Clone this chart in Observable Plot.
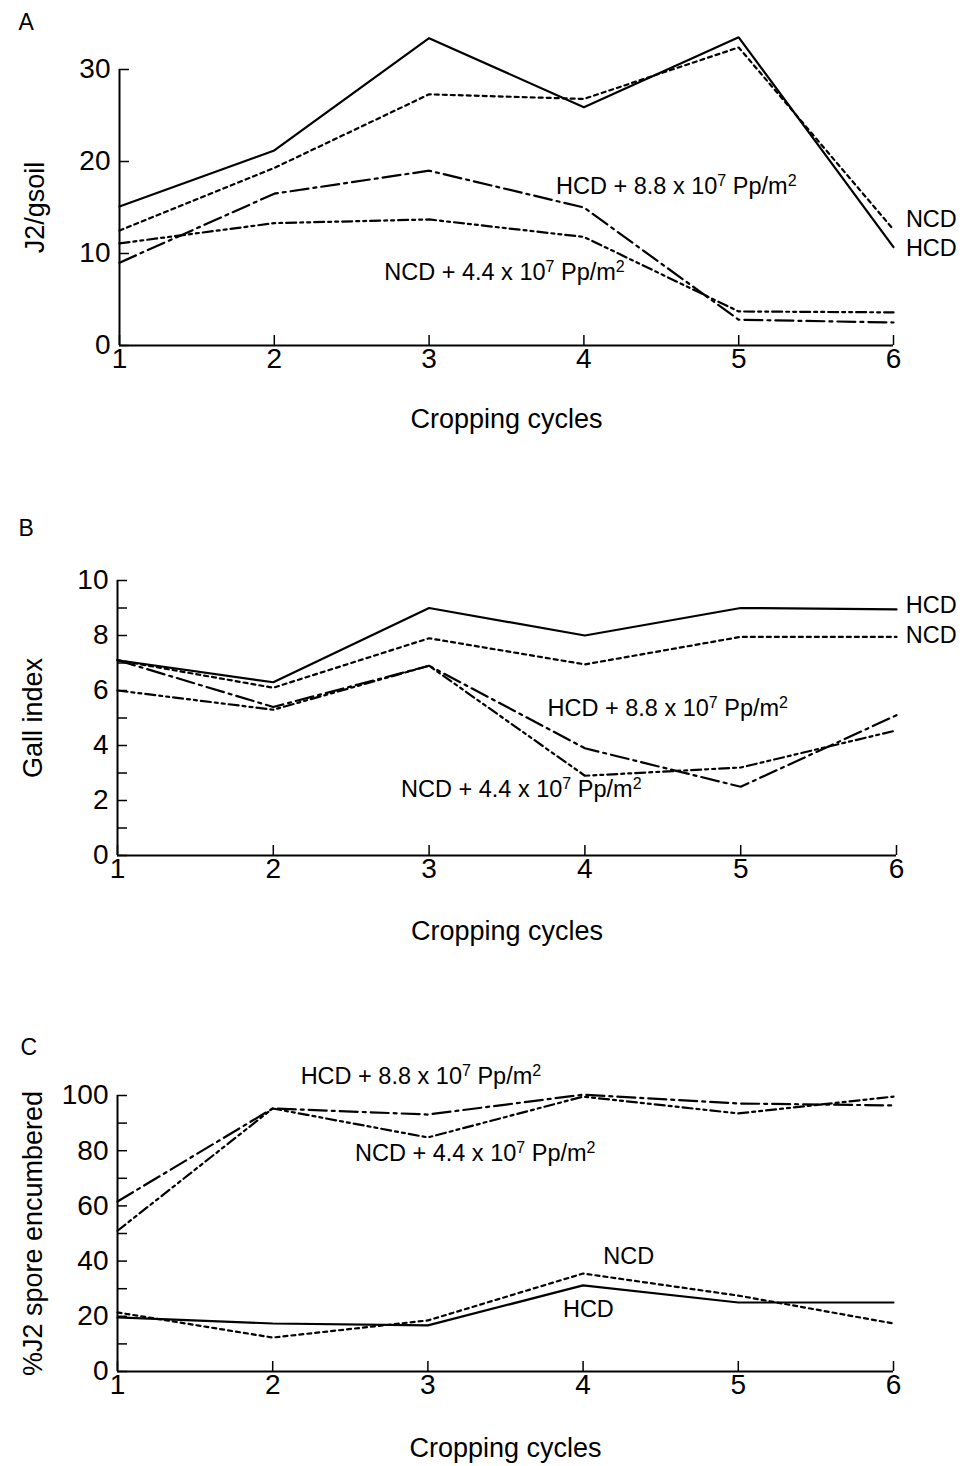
<!DOCTYPE html>
<html><head><meta charset="utf-8">
<script src="https://cdn.jsdelivr.net/npm/d3@7"></script>
<script src="https://cdn.jsdelivr.net/npm/@observablehq/plot@0.6"></script>
<style>
body{margin:0;background:#fff;}
#chart svg{display:block;}
</style>
</head><body><div id="chart"></div>
<script>
// ---- data ----
const cycles = [1, 2, 3, 4, 5, 6];
const seriesNames = ["HCD", "NCD", "HCD + 8.8 x 10⁷ Pp/m²", "NCD + 4.4 x 10⁷ Pp/m²"];

// Panel A: J2/gsoil
const aHCD    = [15.1, 21.2, 33.4, 25.9, 33.5, 10.7];
const aNCD    = [12.5, 19.3, 27.3, 26.8, 32.4, 12.6];
const aHCDPp  = [9.0, 16.5, 19.0, 15.0, 2.8, 2.5];
const aNCDPp  = [11.1, 13.3, 13.7, 11.8, 3.7, 3.6];
const aTicks = [0, 10, 20, 30];

// Panel B: Gall index
const bHCD    = [7.1, 6.3, 9.0, 8.0, 9.0, 8.95];
const bNCD    = [7.1, 6.1, 7.9, 6.95, 7.95, 7.95];
const bHCDPp  = [7.1, 5.4, 6.9, 3.9, 2.5, 5.1];
const bNCDPp  = [6.0, 5.3, 6.9, 2.9, 3.2, 4.55];
const bTicks = [0, 2, 4, 6, 8, 10];
const bMinor = [0, 1, 2, 3, 4, 5, 6, 7, 8, 9, 10];

// Panel C: %J2 spore encumbered
const cHCD    = [19.6, 17.4, 16.7, 31.2, 25.0, 25.0];
const cNCD    = [21.4, 12.3, 18.5, 35.5, 27.5, 17.4];
const cHCDPp  = [61.6, 95.3, 93.1, 100.3, 97.1, 96.4];
const cNCDPp  = [51.0, 95.3, 84.8, 99.6, 93.5, 99.6];
const cTicks = [0, 20, 40, 60, 80, 100];
const cMinor = [0, 10, 20, 30, 40, 50, 60, 70, 80, 90, 100];

// in-plot labels (text, cycle, value)
const aLabels = [
  {text: seriesNames[2], x: 3.82, y: 17.3},
  {text: seriesNames[3], x: 2.71, y: 7.9},
  {text: "NCD", x: 6.08, y: 13.7},
  {text: "HCD", x: 6.08, y: 10.5}
];
const bLabels = [
  {text: seriesNames[2], x: 3.76, y: 5.35},
  {text: seriesNames[3], x: 2.82, y: 2.4},
  {text: "HCD", x: 6.06, y: 9.1},
  {text: "NCD", x: 6.06, y: 8.0}
];
const cLabels = [
  {text: seriesNames[2], x: 2.18, y: 106.9},
  {text: seriesNames[3], x: 2.53, y: 79.0},
  {text: "NCD", x: 4.13, y: 41.7},
  {text: "HCD", x: 3.87, y: 22.5}
];

// ---- build ----
const dashStyles = [null, "4,4", "18,5,3,5", "10,4,3,4,3,4"];
const FONT = "'Liberation Sans', Arial, Helvetica, sans-serif";

function rowsOf(arrs) {
  const rows = [];
  arrs.forEach((arr, si) => arr.forEach((v, i) => rows.push({series: seriesNames[si], cycle: cycles[i], value: v})));
  return rows;
}

function panel(o) {
  const rows = rowsOf(o.series);
  const lines = seriesNames.map((s, i) => Plot.line(rows.filter(d => d.series === s), {
    x: "cycle", y: "value", stroke: "#000", strokeWidth: 2.2,
    strokeDasharray: dashStyles[i] || undefined, strokeLinejoin: "miter"
  }));
  return Plot.plot({
    width: 962, height: o.height,
    marginTop: o.mt, marginBottom: o.mb, marginLeft: o.ml, marginRight: o.mr,
    style: {fontFamily: FONT, fontSize: "28px", color: "#000", background: "#fff", overflow: "visible"},
    x: {domain: [1, 6]},
    y: {domain: o.yDomain},
    marks: [
      Plot.axisX(cycles, {tickSize: -10, fill: "none", strokeWidth: 1.5}),
      Plot.axisX(cycles, {tickSize: 0, tickPadding: 3, fontSize: 28, label: null, tickFormat: d => d}),
      Plot.axisY(o.minor, {tickSize: -10, fill: "none", strokeWidth: 1.5}),
      Plot.axisY(o.ticks, {tickSize: 0, tickPadding: 9, fontSize: 28, label: null, tickFormat: d => d}),
      Plot.ruleX([1], {strokeWidth: 2}),
      Plot.ruleY([o.yDomain[0]], {strokeWidth: 2}),
      ...lines,
      Plot.text(o.labels, {x: "x", y: "y", text: "text", textAnchor: "start", lineAnchor: "middle", fontSize: 23.5, fill: "#000"}),
      Plot.text([o.ylabel], {frameAnchor: "left", textAnchor: "middle", lineAnchor: "middle", rotate: -90, dx: -84, fontSize: 27, fill: "#000"}),
      Plot.text(["Cropping cycles"], {frameAnchor: "bottom", textAnchor: "middle", lineAnchor: "middle", dy: o.xldy, fontSize: 27, fill: "#000"}),
      Plot.text([o.letter], {frameAnchor: "top-left", textAnchor: "start", lineAnchor: "middle", dx: o.ldx, dy: o.ldy, fontSize: 23, fill: "#000"})
    ]
  });
}

// raise superscript characters as real superscript tspans
function supify(svg) {
  const NS = "http://www.w3.org/2000/svg";
  const map = {"⁷": "7", "²": "2"};
  svg.querySelectorAll("text").forEach(t => {
    const s = t.textContent;
    if (!/[⁷²]/.test(s) || t.querySelector("tspan")) return;
    t.textContent = "";
    let raised = false;
    s.split(/([⁷²])/).forEach(p => {
      if (!p) return;
      const ts = document.createElementNS(NS, "tspan");
      if (map[p]) {
        ts.textContent = map[p];
        ts.setAttribute("font-size", "16");
        ts.setAttribute("dy", "-8");
        raised = true;
      } else {
        ts.textContent = p;
        if (raised) { ts.setAttribute("dy", "8"); raised = false; }
      }
      t.appendChild(ts);
    });
  });
  return svg;
}

const chart = document.getElementById("chart");
chart.append(supify(panel({
  letter: "A", ylabel: "J2/gsoil", yDomain: [0, 30], ticks: aTicks, minor: aTicks,
  series: [aHCD, aNCD, aHCDPp, aNCDPp], labels: aLabels,
  height: 470, mt: 69, mb: 125, ml: 119, mr: 69, ldx: -101, ldy: -47, xldy: 74
})));
chart.append(supify(panel({
  letter: "B", ylabel: "Gall index", yDomain: [0, 10], ticks: bTicks, minor: bMinor,
  series: [bHCD, bNCD, bHCDPp, bNCDPp], labels: bLabels,
  height: 520, mt: 110, mb: 135, ml: 117, mr: 66, ldx: -99, ldy: -52, xldy: 76
})));
chart.append(supify(panel({
  letter: "C", ylabel: "%J2 spore encumbered", yDomain: [0, 100], ticks: cTicks, minor: cMinor,
  series: [cHCD, cNCD, cHCDPp, cNCDPp], labels: cLabels,
  height: 476, mt: 105, mb: 95, ml: 117, mr: 69, ldx: -97, ldy: -48, xldy: 77
})));
</script>
</body></html>
